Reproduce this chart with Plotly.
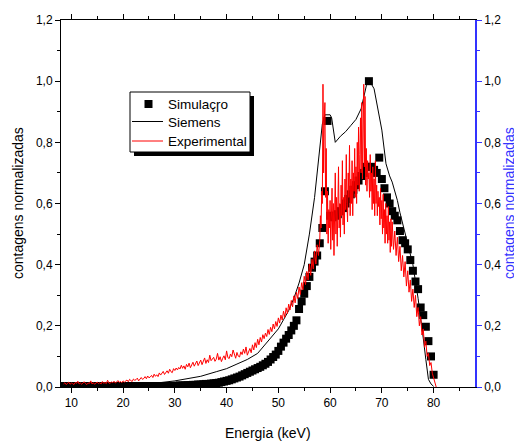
import plotly.graph_objects as go

# ---------------- data ----------------
sim_energy = [8.0 + 0.5 * i for i in range(145)]  # 8.0 .. 80.0 keV
sim_counts = (
    [0.003] * 44 +
    [0.004, 0.004, 0.005, 0.005, 0.005, 0.006, 0.006, 0.007, 0.007, 0.008, 0.008, 0.009] +
    [0.010, 0.010, 0.011, 0.012, 0.013, 0.014, 0.016, 0.018, 0.020, 0.022, 0.025, 0.028] +
    [0.031, 0.034, 0.038, 0.042, 0.046, 0.050, 0.054, 0.058, 0.062, 0.066, 0.071, 0.076] +
    [0.082, 0.090, 0.098, 0.106, 0.118, 0.132, 0.145, 0.158, 0.170, 0.185, 0.200, 0.218] +
    [0.255, 0.280, 0.305, 0.330, 0.360, 0.390, 0.410, 0.430, 0.470, 0.520, 0.640, 0.870] +
    [0.560, 0.555, 0.560, 0.565, 0.575, 0.585, 0.600, 0.615, 0.630, 0.645, 0.660, 0.675] +
    [0.690, 0.700, 0.720, 1.000, 0.720, 0.710, 0.700, 0.750, 0.680, 0.650, 0.620, 0.600] +
    [0.575, 0.560, 0.545, 0.510, 0.480, 0.470, 0.450, 0.415, 0.380, 0.345, 0.320, 0.260] +
    [0.235, 0.197, 0.150, 0.100, 0.040]
)

siemens_energy = [8, 10, 15, 20, 25, 30, 35, 38, 40, 42, 44, 46, 48, 50, 51, 52, 53, 54, 55, 56,
                  57, 58, 58.5, 59, 60, 60.3, 61, 62, 63, 64, 65, 66, 66.5, 67, 67.5, 68, 68.5,
                  69, 70, 70.8, 71.5, 72, 73, 73.5, 74, 75, 76, 77, 77.5, 78, 78.5, 79, 79.5, 80]
siemens_counts = [0.0, 0.0, 0.002, 0.005, 0.010, 0.020, 0.035, 0.050, 0.060, 0.075, 0.090, 0.110,
                  0.150, 0.190, 0.220, 0.250, 0.290, 0.340, 0.400, 0.500, 0.620, 0.780, 0.860,
                  0.890, 0.890, 0.880, 0.800, 0.820, 0.835, 0.855, 0.875, 0.910, 0.950, 0.985,
                  0.995, 0.990, 0.975, 0.930, 0.840, 0.730, 0.690, 0.670, 0.610, 0.570, 0.535,
                  0.475, 0.400, 0.290, 0.230, 0.160, 0.090, 0.025, 0.010, 0.002]

# experimental spectrum: 8.5-57.75 keV (0.25 keV steps)
exp_counts_low = [
    .010, .014, .008, .012,  .016, .009, .013, .011,  .008, .015, .012, .019,
    .010, .013, .009, .014,  .017, .011, .008, .013,  .012, .020, .010, .014,
    .009, .013, .016, .011,  .014, .010, .018, .012,  .015, .011, .022, .013,
    .012, .017, .014, .019,  .013, .016, .021, .015,  .018, .014, .020, .016,
    .019, .023, .017, .025,  .021, .018, .026, .022,  .024, .029, .020, .027,
    .031, .025, .028, .034,  .027, .036, .030, .033,  .038, .031, .042, .035,
    .040, .034, .046, .039,  .044, .051, .041, .048,  .053, .045, .058, .050,
    .047, .060, .054, .062,  .056, .064, .059, .071,  .061, .069, .058, .074,
    .066, .078, .063, .072,  .081, .068, .076, .085,  .070, .079, .088, .073,
    .083, .095, .077, .089,  .080, .104, .086, .092,  .097, .084, .091, .110,
    .088, .099, .083, .094,  .102, .089, .118, .096,  .093, .108, .099, .121,
    .105, .094, .113, .101,  .098, .115, .106, .124,  .110, .131, .104, .119,
    .126, .112, .138, .121,  .145, .129, .156, .138,  .162, .147, .171, .158,
    .176, .165, .188, .172,  .195, .181, .206, .190,  .214, .198, .226, .209,
    .235, .219, .248, .228,  .259, .240, .271, .252,  .283, .262, .298, .275,
    .310, .289, .327, .302,  .341, .318, .362, .335,  .378, .350, .402, .365,
    .418, .386, .445, .402,  .465, .430,
]
# 58.0-71.875 keV (0.125 keV steps)
exp_counts_peak = [
    .480, .560, .520, .640, .600, .990, .700, .880,
    .930, .620, .780, .500, .640, .470, .580, .520,
    .610, .450, .560, .650, .480, .600, .430, .550,
    .700, .500, .620, .460, .580, .720, .520, .600,
    .490, .660, .560, .740, .530, .620, .500, .680,
    .580, .760, .600, .540, .700, .620, .790, .560,
    .680, .600, .740, .560, .700, .640, .780, .620,
    .720, .600, .800, .660, .850, .640, .760, .880,
    .700, .930, .680, .800, .990, .720, .950, .660,
    .780, .640, .740, .680, .700, .620, .760, .640,
    .700, .580, .720, .600, .680, .560, .740, .600,
    .660, .560, .640, .590, .620, .530, .650, .550,
    .610, .500, .630, .520, .580, .470, .600, .500,
    .560, .470, .590, .480, .540, .440, .550, .460,
]
# 72.0-80.5 keV (0.25 keV steps)
exp_counts_tail = [
    .540, .450, .510, .430,  .490, .410, .460, .380,  .430, .360, .410, .330,
    .380, .310, .350, .280,  .320, .260, .300, .230,  .260, .200, .230, .170,
    .190, .130, .150, .100,  .110, .070, .080, .045,  .030, .015, .000,
]
exp_energy = ([8.5 + 0.25 * i for i in range(len(exp_counts_low))] +
              [58.0 + 0.125 * i for i in range(len(exp_counts_peak))] +
              [72.0 + 0.25 * i for i in range(len(exp_counts_tail))])
exp_counts = exp_counts_low + exp_counts_peak + exp_counts_tail

x_ticks = [10, 20, 30, 40, 50, 60, 70, 80]
y_ticks = [0.0, 0.2, 0.4, 0.6, 0.8, 1.0, 1.2]
y_tick_labels = ["0,0", "0,2", "0,4", "0,6", "0,8", "1,0", "1,2"]

legend_names = ["Simulaçɼo", "Siemens", "Experimental"]

# ---------------- figure ----------------
FONT = "Liberation Sans, Arial, sans-serif"
BLUE = "#3333ff"

# the page body has an 8 px margin, so figure pixel = screen pixel - 8
W, H = 514, 434
L, R, T, B = 53, 47, 12, 55
PW, PH = W - L - R, H - T - B


def px_x(p):  # screen pixel -> paper x
    return (p - 8 - L) / PW


def px_y(p):  # screen pixel -> paper y
    return (H - B - (p - 8)) / PH


fig = go.Figure()
fig.add_trace(go.Scatter(x=sim_energy, y=sim_counts, mode="markers", name=legend_names[0],
                         marker=dict(symbol="square", size=8, color="black"), showlegend=False))
fig.add_trace(go.Scatter(x=siemens_energy, y=siemens_counts, mode="lines", name=legend_names[1],
                         line=dict(color="black", width=1), showlegend=False))
fig.add_trace(go.Scatter(x=exp_energy, y=exp_counts, mode="lines", name=legend_names[2],
                         line=dict(color="#ff0000", width=1), showlegend=False))
# dummy trace to show the right-hand axis
fig.add_trace(go.Scatter(x=[sim_energy[0]], y=[sim_counts[0]], yaxis="y2", mode="markers",
                         marker=dict(opacity=0), showlegend=False, hoverinfo="skip"))

axis_common = dict(showgrid=False, zeroline=False, ticks="outside", showline=True,
                   automargin=False,
                   tickfont=dict(family=FONT, size=12, color="black"))

# legend box (drawn by hand to match the original's compact box with drop shadow)
shapes = [
    dict(type="rect", xref="paper", yref="paper", layer="above",
         x0=px_x(134), x1=px_x(254), y0=px_y(156), y1=px_y(96),
         fillcolor="black", line=dict(width=0)),
    dict(type="rect", xref="paper", yref="paper", layer="above",
         x0=px_x(130), x1=px_x(250), y0=px_y(152), y1=px_y(92),
         fillcolor="white", line=dict(color="black", width=1)),
    dict(type="rect", xref="paper", yref="paper", layer="above",
         x0=px_x(144.5), x1=px_x(152.5), y0=px_y(108), y1=px_y(100),
         fillcolor="black", line=dict(width=0)),
    dict(type="line", xref="paper", yref="paper", layer="above",
         x0=px_x(132), x1=px_x(163), y0=px_y(121.5), y1=px_y(121.5),
         line=dict(color="black", width=1)),
    dict(type="line", xref="paper", yref="paper", layer="above",
         x0=px_x(132), x1=px_x(163), y0=px_y(141), y1=px_y(141),
         line=dict(color="#ff0000", width=1)),
]
legend_y = [104, 122, 141]
annotations = [
    dict(text=name, xref="paper", yref="paper", x=px_x(166), y=px_y(yy), xanchor="left",
         yanchor="middle", showarrow=False, font=dict(family=FONT, size=13.5, color="black"))
    for name, yy in zip(legend_names, legend_y)
]
annotations += [
    dict(text="contagens normalizadas", xref="paper", yref="paper", x=px_x(18), y=px_y(203),
         xanchor="center", yanchor="middle", textangle=-90, showarrow=False,
         font=dict(family=FONT, size=14, color="black")),
    dict(text="contagens normalizadas", xref="paper", yref="paper", x=px_x(509), y=px_y(203),
         xanchor="center", yanchor="middle", textangle=-90, showarrow=False,
         font=dict(family=FONT, size=14, color=BLUE)),
    dict(text="Energia (keV)", xref="paper", yref="paper", x=px_x(268), y=px_y(433),
         xanchor="center", yanchor="middle", showarrow=False,
         font=dict(family=FONT, size=14, color="black")),
]

fig.update_layout(
    width=W, height=H, autosize=False,
    paper_bgcolor="white", plot_bgcolor="white",
    margin=dict(l=L, r=R, t=T, b=B),
    font=dict(family=FONT, size=12, color="black"),
    xaxis=dict(range=[8, 88], tickvals=x_ticks, linecolor="black", linewidth=1,
               tickcolor="black", ticklen=5, mirror="ticks",
               minor=dict(dtick=5, tick0=0, ticks="outside", ticklen=3, tickcolor="black"),
               **axis_common),
    yaxis=dict(range=[0, 1.2], tickvals=y_ticks, ticktext=y_tick_labels, linecolor="black",
               linewidth=1, tickcolor="black", ticklen=5,
               minor=dict(dtick=0.1, tick0=0, ticks="outside", ticklen=3, tickcolor="black"),
               **axis_common),
    yaxis2=dict(range=[0, 1.2], overlaying="y", side="right", tickvals=y_ticks,
                ticktext=y_tick_labels, linecolor=BLUE, linewidth=1.5, tickcolor=BLUE,
                ticklen=5,
                minor=dict(dtick=0.1, tick0=0, ticks="outside", ticklen=3, tickcolor=BLUE),
                **axis_common),
    shapes=shapes,
    annotations=annotations,
    showlegend=False,
)

fig.write_html("out.html")
